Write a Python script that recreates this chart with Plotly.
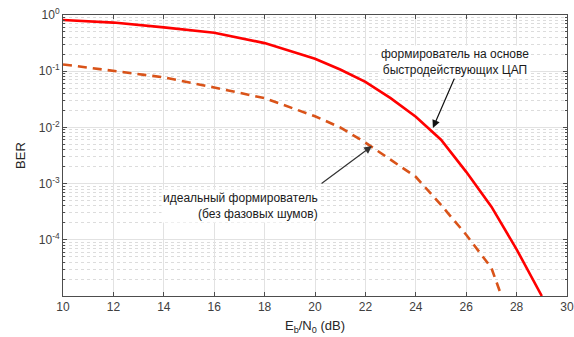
import plotly.graph_objects as go

ebn0_dac = [10, 12, 14, 16, 18, 20, 21, 22, 23, 24, 25, 26, 27, 28, 29]
ber_dac = [0.813, 0.733, 0.603, 0.484, 0.316, 0.166, 0.107, 0.0646, 0.0331,
           0.0155, 0.00603, 0.00162, 3.89e-4, 6.76e-5, 1.0e-5]

ebn0_ideal = [10, 12, 14, 16, 18, 20, 21, 22, 23, 24, 25, 26, 27, 27.4]
ber_ideal = [0.132, 0.102, 0.0776, 0.0513, 0.0331, 0.0158, 0.0100, 0.00537,
             0.00269, 0.00132, 4.17e-4, 1.23e-4, 3.16e-5, 1.0e-5]

x_ticks = [10, 12, 14, 16, 18, 20, 22, 24, 26, 28, 30]
y_tickvals = [1, 0.1, 0.01, 0.001, 0.0001]
y_ticktext = ["10<sup>0</sup>", "10<sup>-1</sup>", "10<sup>-2</sup>",
              "10<sup>-3</sup>", "10<sup>-4</sup>"]
y_minor = [m * 10.0 ** e for e in range(-5, 0) for m in range(2, 10)]

label_dac = "формирователь на основе<br>быстродействующих ЦАП"
label_ideal = "идеальный формирователь<br>(без фазовых шумов)"

font = "Liberation Sans, Arial, sans-serif"
axis_col = "#4d4d4d"

fig = go.Figure()
fig.add_trace(go.Scatter(x=ebn0_dac, y=ber_dac, mode="lines",
                         line=dict(color="#ff0000", width=2.6),
                         showlegend=False))
fig.add_trace(go.Scatter(x=ebn0_ideal, y=ber_ideal, mode="lines",
                         line=dict(color="#d95319", width=2.6, dash="9px,6px"),
                         showlegend=False))

fig.update_layout(
    width=574, height=337,
    margin=dict(l=63, r=7, t=15, b=41, autoexpand=False),
    paper_bgcolor="white", plot_bgcolor="white",
    font=dict(family=font, size=12, color="#262626"),
    showlegend=False,
)
fig.update_xaxes(
    range=[10, 30], tickmode="array", tickvals=x_ticks, automargin=False,
    ticklabeloverflow="allow",
    ticks="inside", ticklen=4, tickcolor=axis_col,
    showline=True, linecolor=axis_col, linewidth=1, mirror="ticks",
    showgrid=True, gridcolor="#e2e2e2", gridwidth=1,
    zeroline=False,
    tickfont=dict(size=12, color="#404040"),
    title=dict(text="E<sub>b</sub>/N<sub>0</sub> (dB)", standoff=7,
               font=dict(size=13, color="#262626")),
)
fig.update_yaxes(
    type="log", range=[-5, 0], tickmode="array", automargin=False,
    ticklabeloverflow="allow",
    tickvals=y_tickvals, ticktext=y_ticktext,
    ticks="inside", ticklen=4, tickcolor=axis_col,
    showline=True, linecolor=axis_col, linewidth=1, mirror="ticks",
    showgrid=True, gridcolor="#e2e2e2", gridwidth=1,
    zeroline=False,
    tickfont=dict(size=12, color="#404040"),
    minor=dict(tickmode="array", tickvals=y_minor, ticks="inside", ticklen=2,
               tickcolor=axis_col, showgrid=True, gridcolor="#dcdcdc",
               griddash="dot", gridwidth=1),
    title=dict(text="BER", standoff=10, font=dict(size=13, color="#262626")),
)

# arrows
fig.add_annotation(x=24.68, y=-2.01, ax=25.56, ay=-1.10, xref="x", yref="y",
                   axref="x", ayref="y", text="", showarrow=True,
                   arrowhead=2, arrowsize=1.3, arrowwidth=1.2, arrowcolor="#111111")
fig.add_annotation(x=22.26, y=-2.33, ax=20.2, ay=-3.02, xref="x", yref="y",
                   axref="x", ayref="y", text="", showarrow=True,
                   arrowhead=2, arrowsize=1.3, arrowwidth=1.2, arrowcolor="#333333")
# texts
fig.add_annotation(x=25.56, y=-0.83, xref="x", yref="y", text=label_dac,
                   showarrow=False, xanchor="center", yanchor="middle",
                   align="center", bgcolor="white",
                   font=dict(size=12, color="#1a1a1a", family=font))
fig.add_annotation(x=20.2, y=-3.39, xref="x", yref="y", text=label_ideal,
                   showarrow=False, xanchor="right", yanchor="middle",
                   align="right", bgcolor="white",
                   font=dict(size=12, color="#1a1a1a", family=font))

fig.write_html("out.html",
               config={"displayModeBar": False},
               post_script="document.body.style.margin='0';"
                           "document.body.style.overflow='hidden';")
